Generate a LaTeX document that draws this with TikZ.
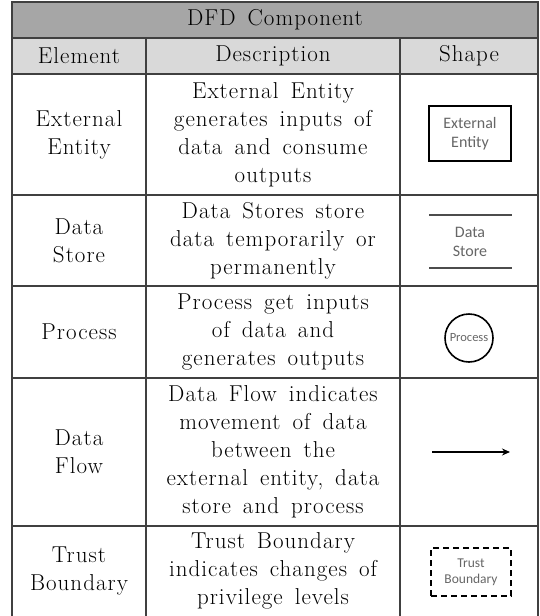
\documentclass[tikz,border=0pt]{standalone}
\usepackage{fontspec}
\usetikzlibrary{arrows.meta}
\setmainfont{Latin Modern Roman}[LetterSpace=4.5, WordSpace=1.5]
\newfontfamily\shapefont{Carlito}
\begin{document}
\begin{tikzpicture}[x=1pt, y=-1pt,
  every node/.style={font=\fontsize{23}{28}\selectfont, align=center, inner sep=0pt},
  grid line/.style={draw=black!75, line width=1.1pt},
  shape text/.style={font=\shapefont\fontsize{16}{19}\selectfont, text=black!60}]
  \useasboundingbox (0,0) rectangle (540,616);
  % Header fills
  \fill[black!35] (12,2) rectangle (538,38);
  \fill[black!15] (12,38) rectangle (538,74);
  % Table grid
  \draw[grid line] (12,616) -- (12,2) -- (538,2) -- (538,616);
  \foreach \y in {38,74,195,286,378,526}
    \draw[grid line] (12,\y) -- (538,\y);
  \foreach \x in {146,400}
    \draw[grid line] (\x,38) -- (\x,616);
  % Titles
  \node (title) at (275,20) {DFD Component};
  \node (hdrelem) at (79,56) {Element};
  \node (hdrdesc) at (273,56) {Description};
  \node (hdrshape) at (469,56) {Shape};
  % External entity
  \node (elemext) at (79,134.5) {External\\Entity};
  \node (descext) at (273,134.5) {External Entity\\generates inputs of\\data and consume\\outputs};
  \node[shape text, draw=black, line width=2pt, minimum width=82pt, minimum height=55pt]
    (shapeext) at (470,133.5) {External\\Entity};
  % Data store
  \node (elemstore) at (79,240.5) {Data\\Store};
  \node (descstore) at (273,240.5) {Data Stores store\\data temporarily or\\permanently};
  \node[shape text] (shapestore) at (470,241.5) {Data\\Store};
  \draw[black!70, line width=2pt] (429,215) -- (512,215);
  \draw[black!70, line width=2pt] (429,268) -- (512,268);
  % Process
  \node (elemproc) at (79,332) {Process};
  \node (descproc) at (273,332) {Process get inputs\\of data and\\generates outputs};
  \node[shape text, font=\shapefont\fontsize{12.5}{15}\selectfont, draw=black, line width=1.6pt,
    circle, minimum size=48pt] (shapeproc) at (469,338) {Process};
  % Data flow
  \node (elemflow) at (79,452) {Data\\Flow};
  \node (descflow) at (273,452) {Data Flow indicates\\movement of data\\between the\\external entity, data\\store and process};
  \coordinate (flowstart) at (432,452);
  \coordinate (flowend) at (510,452);
  \draw[line width=1.8pt, -{Stealth[length=8pt, width=7pt]}] (flowstart) -- (flowend);
  % Trust boundary
  \node (elemtrust) at (79,571) {Trust\\Boundary};
  \node (desctrust) at (273,571) {Trust Boundary\\indicates changes of\\privilege levels};
  \node[shape text, font=\shapefont\fontsize{13.5}{16}\selectfont, draw=black, line width=2.2pt,
    dash pattern=on 6pt off 4pt, minimum width=80pt, minimum height=48pt]
    (shapetrust) at (471,572) {Trust\\Boundary};
\end{tikzpicture}
\end{document}
